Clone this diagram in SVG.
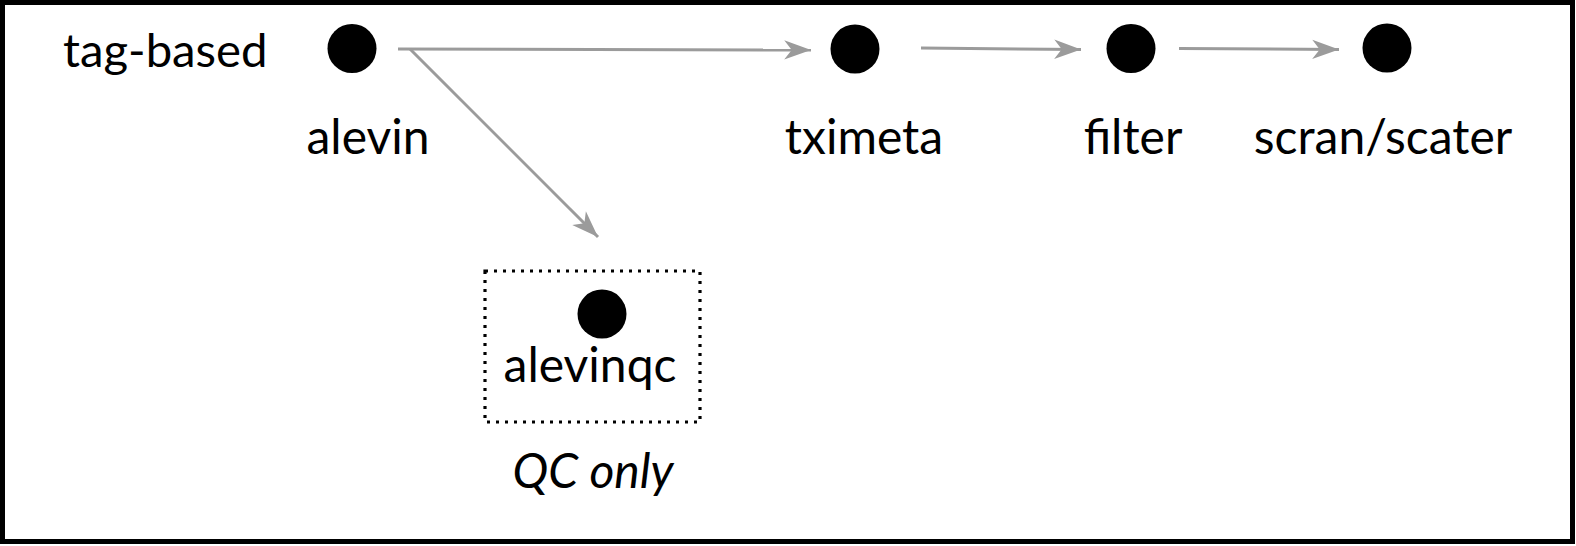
<svg xmlns="http://www.w3.org/2000/svg" width="1576" height="546" viewBox="0 0 1576 546">
<style>
.lbl{font-family:Lato,"Liberation Sans",sans-serif;font-size:48px;fill:#000;text-anchor:middle}
.dot{fill:#000}
.edge{stroke:#9b9b9b;stroke-width:3;fill:none}
</style>
<defs>
<marker id="ah" markerUnits="userSpaceOnUse" markerWidth="30" markerHeight="24" viewBox="-26 -11 28 22" refX="0" refY="0" orient="auto">
<path d="M-25,-9 L0,0 L-25,9 L-18,0 Z" fill="#9b9b9b"/>
</marker>
</defs>
<rect x="2.5" y="2.5" width="1570" height="539" fill="#fff" stroke="#000" stroke-width="5"/>
<text class="lbl" x="63" y="67" style="text-anchor:start;font-size:47.3px">tag-based</text>
<g id="connectors">
<line class="edge" x1="398" y1="49" x2="811" y2="50" marker-end="url(#ah)"/>
<line class="edge" x1="410" y1="49" x2="598" y2="237" marker-end="url(#ah)"/>
<line class="edge" x1="921" y1="48" x2="1081" y2="49.5" marker-end="url(#ah)"/>
<line class="edge" x1="1179" y1="48.5" x2="1339" y2="49.5" marker-end="url(#ah)"/>
</g>
<g id="alevin">
<circle class="dot" cx="352" cy="48.5" r="24.5"/>
<text class="lbl" x="368" y="154">alevin</text>
</g>
<g id="tximeta">
<circle class="dot" cx="855" cy="49" r="24.5"/>
<text class="lbl" x="864" y="154">tximeta</text>
</g>
<g id="filter">
<circle class="dot" cx="1131" cy="48.5" r="24.5"/>
<text class="lbl" x="1133" y="154">filter</text>
</g>
<g id="scran">
<circle class="dot" cx="1387" cy="48" r="24.5"/>
<text class="lbl" x="1383" y="154">scran/scater</text>
</g>
<g id="alevinqc">
<rect x="485" y="271" width="215" height="151" fill="none" stroke="#000" stroke-width="3.2" stroke-dasharray="3 6"/>
<circle class="dot" cx="602" cy="314" r="24.5"/>
<text class="lbl" x="590" y="382">alevinqc</text>
<text class="lbl" x="593" y="488" font-style="italic">QC only</text>
</g>
</svg>
